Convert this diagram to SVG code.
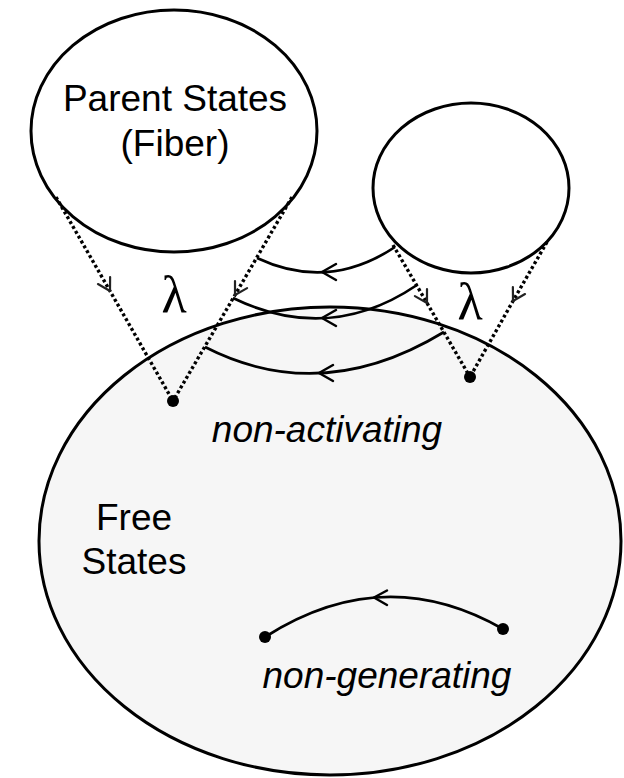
<svg xmlns="http://www.w3.org/2000/svg" width="624" height="778" viewBox="0 0 624 778">
<style>
.bg{fill:#ffffff}
.node{stroke:#000;stroke-width:3}
.lbl{font-family:"Liberation Sans",Arial,sans-serif;font-size:37px;fill:#000;text-anchor:middle}
.it{font-style:italic}
.lam{font-family:"Liberation Serif","Times New Roman",serif;font-size:52px;fill:#000;text-anchor:middle}
.dot{fill:none;stroke:#000;stroke-width:3.4;stroke-dasharray:3 2.6}
.arc{fill:none;stroke:#000;stroke-width:2.7}
.chev{fill:none;stroke:#000;stroke-width:2.5;stroke-linecap:round;stroke-linejoin:round}
.pt{fill:#000}
</style>
<defs>
<marker id="dm" markerUnits="userSpaceOnUse" markerWidth="32" markerHeight="32" refX="16" refY="16" orient="auto" viewBox="0 0 32 32">
<path d="M4,9 L16,16 L4,23" style="fill:none;stroke:#222;stroke-width:2.2;stroke-dasharray:none;stroke-linecap:round;stroke-linejoin:round"/>
</marker>
</defs>
<rect class="bg" x="0" y="0" width="624" height="778"/>
<g id="free-states">
<ellipse class="node" cx="330" cy="541" rx="291" ry="234" fill="#f6f6f6"/>
<text class="lbl" x="134" y="530">Free</text>
<text class="lbl" x="134" y="574">States</text>
</g>
<g id="parent-states">
<ellipse class="node" cx="174" cy="131" rx="143" ry="121" fill="#ffffff"/>
<text class="lbl" x="175" y="111">Parent States</text>
<text class="lbl" x="175" y="156">(Fiber)</text>
</g>
<g id="small-state">
<ellipse class="node" cx="471" cy="188" rx="98" ry="85" fill="#ffffff"/>
</g>
<g id="connectors">
<path class="dot" d="M56,197 L110,291 L173,401" marker-mid="url(#dm)"/>
<path class="dot" d="M292,197 L235,295 L173,401" marker-mid="url(#dm)"/>
<path class="dot" d="M393,245 L427,303 L470,377" marker-mid="url(#dm)"/>
<path class="dot" d="M547,242 L513,301 L470,377" marker-mid="url(#dm)"/>
<path class="arc" d="M395,247 Q328,291.5 257,258"/>
<path class="chev" d="M336,264 L322,272 L336,280"/>
<path class="arc" d="M417,285 Q329,344.5 233,298"/>
<path class="chev" d="M336,310 L322,318 L336,326"/>
<path class="arc" d="M444,332 Q321.5,406.5 205,347"/>
<path class="chev" d="M333,365 L319,373 L333,381"/>
<path class="arc" d="M265,637 Q384,561 503,629"/>
<path class="chev" d="M387,590.5 L374,597.5 L387,605"/>
<circle class="pt" cx="173" cy="401" r="6"/>
<circle class="pt" cx="470" cy="377" r="6"/>
<circle class="pt" cx="265" cy="637" r="6"/>
<circle class="pt" cx="503" cy="629" r="6"/>
</g>
<g id="labels">
<text class="lam" x="174" y="312">λ</text>
<text class="lam" x="470" y="319">λ</text>
<text class="lbl it" x="327" y="442">non-activating</text>
<text class="lbl it" x="387" y="688">non-generating</text>
</g>
</svg>
